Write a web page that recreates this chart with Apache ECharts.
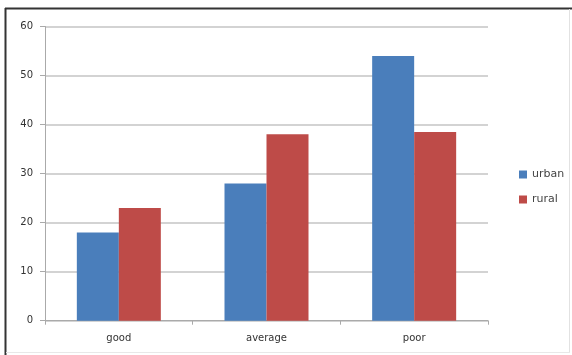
<!DOCTYPE html>
<html><head><meta charset="utf-8">
<script src="https://cdn.jsdelivr.net/npm/echarts@6/dist/echarts.min.js"></script>
<style>html,body{margin:0;padding:0;background:#fff}#c{width:572px;height:355px}</style>
</head><body><div id="c"></div>
<script>
const categories = ['good', 'average', 'poor'];
const urban = [18, 28, 54];
const rural = [23, 38, 38.5];
const yTicks = [0, 10, 20, 30, 40, 50, 60];

const chart = echarts.init(document.getElementById('c'), null, {renderer: 'canvas'});
const font = 'DejaVu Sans';
chart.setOption({
  animation: false,
  backgroundColor: '#fff',
  graphic: [
    {type: 'line', shape: {x1: 5, y1: 8.5, x2: 572, y2: 8.5}, style: {stroke: '#333', lineWidth: 2}},
    {type: 'line', shape: {x1: 5.5, y1: 8, x2: 5.5, y2: 355}, style: {stroke: '#333', lineWidth: 2}},
    {type: 'line', shape: {x1: 569.5, y1: 9, x2: 569.5, y2: 352}, style: {stroke: '#e2e2e2', lineWidth: 1}},
    {type: 'line', shape: {x1: 6, y1: 352.5, x2: 570, y2: 352.5}, style: {stroke: '#e8e8e8', lineWidth: 1}}
  ],
  grid: {left: 45, right: 84, top: 26.5, bottom: 34.3, containLabel: false},
  legend: {
    orient: 'vertical', left: 514, top: 164, itemWidth: 8, itemHeight: 8, itemGap: 14,
    icon: 'rect',
    textStyle: {fontFamily: font, fontSize: 11, color: '#444'},
    data: ['urban', 'rural']
  },
  xAxis: {
    type: 'category', data: categories,
    axisLine: {lineStyle: {color: '#aaa', width: 1}},
    axisTick: {show: true, length: 4, lineStyle: {color: '#aaa'}},
    axisLabel: {fontFamily: font, fontSize: 10, color: '#333', margin: 13}
  },
  yAxis: {
    type: 'value', min: yTicks[0], max: yTicks[yTicks.length - 1], interval: 10,
    axisLine: {show: true, lineStyle: {color: '#aaa'}},
    axisTick: {show: true, length: 5, lineStyle: {color: '#aaa'}},
    axisLabel: {fontFamily: font, fontSize: 10, color: '#333', margin: 12},
    splitLine: {lineStyle: {color: '#c4c4c4', width: 1.5}}
  },
  series: [
    {name: 'urban', type: 'bar', data: urban, barWidth: 42, barGap: '0%', itemStyle: {color: '#4a7ebb'}},
    {name: 'rural', type: 'bar', data: rural, barWidth: 42, barGap: '0%', itemStyle: {color: '#be4b48'}}
  ]
});
</script></body></html>
